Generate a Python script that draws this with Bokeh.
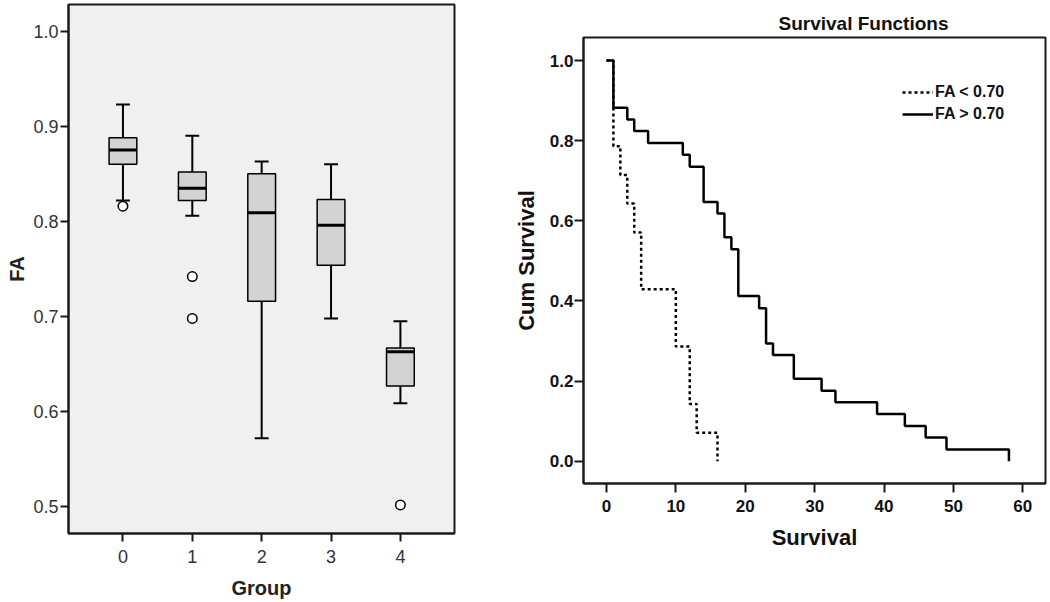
import numpy as np
from bokeh.plotting import figure
from bokeh.layouts import row
from bokeh.models import (Range1d, FixedTicker, Legend, LegendItem,
                          NumeralTickFormatter, Title)
from bokeh.embed import file_html
from bokeh.resources import INLINE

# ---------------- data: left box plot ----------------
groups = [0, 1, 2, 3, 4]
lower_whisker = [0.822, 0.806, 0.572, 0.698, 0.609]
q1 = [0.860, 0.822, 0.716, 0.754, 0.627]
median = [0.875, 0.835, 0.809, 0.796, 0.663]
q3 = [0.888, 0.852, 0.850, 0.823, 0.667]
upper_whisker = [0.923, 0.890, 0.863, 0.860, 0.695]
outlier_group = [0, 1, 1, 4]
outlier_fa = [0.816, 0.742, 0.698, 0.502]
fa_ticks = [0.5, 0.6, 0.7, 0.8, 0.9, 1.0]

# ---------------- data: right survival curves ----------------
low_time = [0, 1, 2, 3, 4, 5, 10, 12, 13, 16]
low_surv = [1.0, 0.786, 0.714, 0.643, 0.571, 0.429, 0.286, 0.143, 0.071, 0.0]
high_time = [0, 1, 3, 4, 6, 11, 12, 14, 16, 17, 18, 19, 22, 23, 24, 27,
             31, 33, 39, 43, 46, 49, 58]
high_surv = [1.0, 0.882, 0.853, 0.824, 0.794, 0.765, 0.735, 0.647, 0.618,
             0.559, 0.529, 0.412, 0.382, 0.294, 0.265, 0.206, 0.176, 0.147,
             0.118, 0.088, 0.059, 0.029, 0.0]
surv_xticks = [0, 10, 20, 30, 40, 50, 60]
surv_yticks = [0.0, 0.2, 0.4, 0.6, 0.8, 1.0]
legend_labels = ["FA < 0.70", "FA > 0.70"]

FONT = "Liberation Sans"
INK = "#1a1a1a"

# ---------------- left figure ----------------
p1 = figure(width=500, height=602, x_range=Range1d(-0.785, 4.78),
            y_range=Range1d(0.472, 1.028), output_backend="svg",
            toolbar_location=None, min_border_left=68, min_border_right=46,
            min_border_top=4, min_border_bottom=69)
p1.background_fill_color = "#F0F0F0"
p1.border_fill_color = "white"
p1.outline_line_color = INK
p1.outline_line_width = 2
p1.xgrid.visible = False
p1.ygrid.visible = False

g = np.array(groups, dtype=float)
p1.segment(x0=g, y0=q3, x1=g, y1=upper_whisker, line_color="black", line_width=2)
p1.segment(x0=g, y0=lower_whisker, x1=g, y1=q1, line_color="black", line_width=2)
p1.segment(x0=g - 0.1, y0=upper_whisker, x1=g + 0.1, y1=upper_whisker,
           line_color="black", line_width=2)
p1.segment(x0=g - 0.1, y0=lower_whisker, x1=g + 0.1, y1=lower_whisker,
           line_color="black", line_width=2)
p1.vbar(x=g, width=0.4, bottom=q1, top=q3, fill_color="#D3D3D3",
        line_color="black", line_width=1.5)
p1.segment(x0=g - 0.2, y0=median, x1=g + 0.2, y1=median,
           line_color="black", line_width=3)
p1.scatter(x=outlier_group, y=outlier_fa, marker="circle", size=9.5,
           fill_color="white", line_color="black", line_width=1.5)

p1.xaxis.ticker = FixedTicker(ticks=groups)
p1.yaxis.ticker = FixedTicker(ticks=fa_ticks)
p1.yaxis.formatter = NumeralTickFormatter(format="0.0")
p1.xaxis.axis_label = "Group"
p1.yaxis.axis_label = "FA"
for ax in (p1.xaxis[0], p1.yaxis[0]):
    ax.axis_line_color = INK
    ax.axis_line_width = 2
    ax.major_tick_line_color = INK
    ax.major_tick_line_width = 2
    ax.major_tick_out = 8
    ax.major_tick_in = 0
    ax.minor_tick_line_color = None
    ax.major_label_text_font = FONT
    ax.major_label_text_font_size = "18px"
    ax.major_label_text_color = "#333333"
    ax.axis_label_text_font = FONT
    ax.axis_label_text_font_size = "20px"
    ax.axis_label_text_font_style = "bold"
    ax.axis_label_text_color = "#222222"
p1.xaxis.major_label_standoff = 8
p1.xaxis.axis_label_standoff = 11
p1.yaxis.major_label_standoff = 2
p1.yaxis.axis_label_standoff = 2

# ---------------- right figure ----------------
p2 = figure(width=550, height=602, x_range=Range1d(-3.31, 63.27),
            y_range=Range1d(-0.0556, 1.0574), output_backend="svg",
            toolbar_location=None, min_border_left=83, min_border_right=5,
            min_border_top=37, min_border_bottom=119)
p2.background_fill_color = "white"
p2.border_fill_color = "white"
p2.outline_line_color = INK
p2.outline_line_width = 2
p2.xgrid.visible = False
p2.ygrid.visible = False
p2.title = Title(text="Survival Functions", align="left", offset=195,
                 text_font=FONT, text_font_size="19px", text_font_style="bold",
                 text_color="#111111", standoff=7)

r_low = p2.step(low_time, low_surv, mode="after", line_color="black",
                line_width=2.5, line_dash="3 3")
r_high = p2.step(high_time, high_surv, mode="after", line_color="black",
                 line_width=2.5)

p2.xaxis.ticker = FixedTicker(ticks=surv_xticks)
p2.yaxis.ticker = FixedTicker(ticks=surv_yticks)
p2.yaxis.formatter = NumeralTickFormatter(format="0.0")
p2.xaxis.axis_label = "Survival"
p2.yaxis.axis_label = "Cum Survival"
for ax in (p2.xaxis[0], p2.yaxis[0]):
    ax.axis_line_color = INK
    ax.axis_line_width = 2
    ax.major_tick_line_color = INK
    ax.major_tick_line_width = 2
    ax.major_tick_out = 9
    ax.major_tick_in = 0
    ax.minor_tick_line_color = None
    ax.major_label_text_font = FONT
    ax.major_label_text_font_size = "17px"
    ax.major_label_text_font_style = "bold"
    ax.major_label_text_color = "#111111"
    ax.axis_label_text_font = FONT
    ax.axis_label_text_font_size = "22px"
    ax.axis_label_text_font_style = "bold"
    ax.axis_label_text_color = "#111111"
p2.xaxis.major_label_standoff = 7
p2.xaxis.axis_label_standoff = 10
p2.yaxis.major_label_standoff = 1
p2.yaxis.axis_label_standoff = 8

legend = Legend(items=[LegendItem(label=legend_labels[0], renderers=[r_low]),
                       LegendItem(label=legend_labels[1], renderers=[r_high])],
                location=(319, 360), padding=0, margin=0, spacing=4,
                glyph_width=31, glyph_height=16, label_height=16,
                label_standoff=2, label_text_font=FONT,
                label_text_font_size="16px", label_text_font_style="bold",
                label_text_color="#111111", border_line_color=None,
                background_fill_alpha=0)
p2.add_layout(legend)

# keep each plot's frame where the reference has it (no cross-plot alignment)
for p in (p1, p2):
    if "frame_align" in p.properties():
        p.frame_align = False

layout = row(p1, p2)
open("out.html", "w").write(file_html(layout, INLINE))
